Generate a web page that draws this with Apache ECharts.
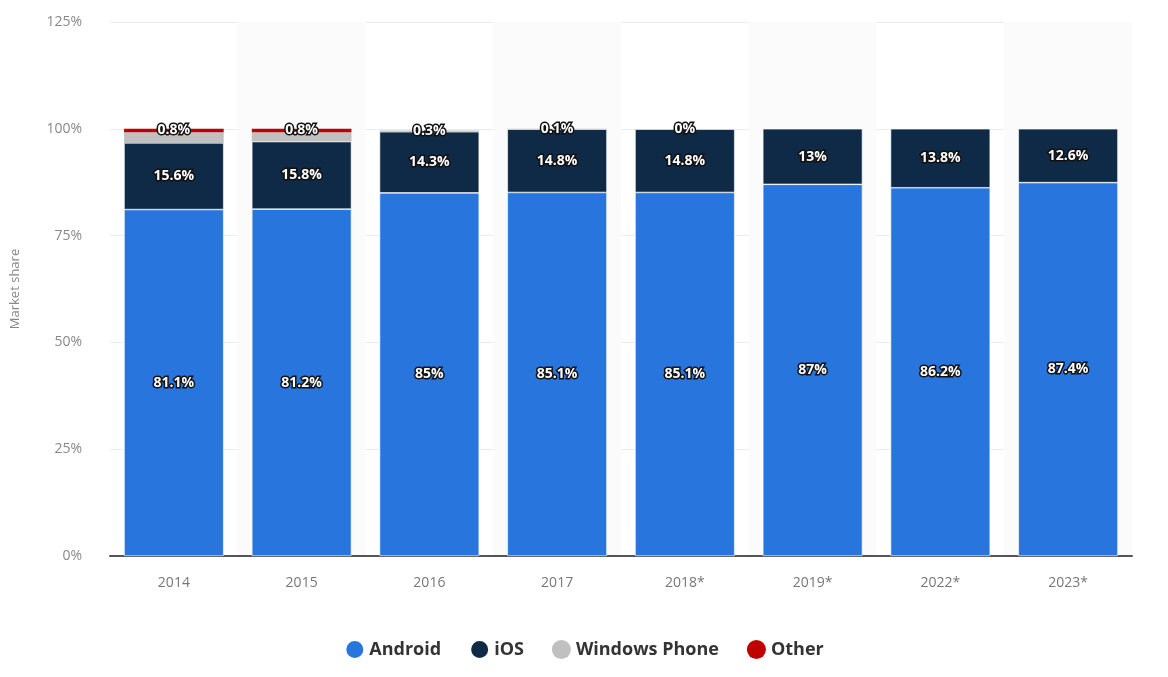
<!DOCTYPE html>
<html>
<head>
<meta charset="utf-8">
<script src="https://cdn.jsdelivr.net/npm/echarts@6/dist/echarts.min.js"></script>
<style>
html,body{margin:0;padding:0;background:#fff;}
#chart{width:1168px;height:677px;}
</style>
</head>
<body>
<div id="chart"></div>
<script>
const categories = ['2014', '2015', '2016', '2017', '2018*', '2019*', '2022*', '2023*'];
const android = [81.1, 81.2, 85, 85.1, 85.1, 87, 86.2, 87.4];
const ios = [15.6, 15.8, 14.3, 14.8, 14.8, 13, 13.8, 12.6];
const windowsPhone = [2.5, 2.2, 0.3, 0.1, 0, null, null, null];
const other = [0.8, 0.8, null, null, null, null, null, null];
const yTicks = [0, 25, 50, 75, 100, 125];

const labelStyle = {
  show: true,
  position: 'inside',
  color: '#fff',
  fontFamily: 'Open Sans',
  fontWeight: 'bold',
  fontSize: 14,
  textBorderColor: '#111',
  textBorderWidth: 3,
  formatter: p => p.value + '%'
};

function mkData(arr, hideWhen) {
  return arr.map((v, i) => {
    if (v === null) return null;
    const item = { value: v };
    if (hideWhen && hideWhen(i)) item.label = { show: false };
    return item;
  });
}

const chart = echarts.init(document.getElementById('chart'));
chart.setOption({
  animation: false,
  grid: { left: 110, right: 36, top: 22, bottom: 121 },
  legend: {
    bottom: 12,
    left: 'center',
    icon: 'circle',
    itemWidth: 19,
    itemHeight: 19,
    itemGap: 28,
    textStyle: { fontFamily: 'Open Sans', fontWeight: 'bold', fontSize: 18, color: '#333' },
    data: ['Android', 'iOS', 'Windows Phone', 'Other']
  },
  xAxis: {
    type: 'category',
    data: categories,
    axisLine: { lineStyle: { color: '#555', width: 2 } },
    axisTick: { show: false },
    axisLabel: { color: '#777', fontFamily: 'Open Sans', fontSize: 14, margin: 20 },
    splitArea: { show: true, areaStyle: { color: ['rgba(255,255,255,0)', '#fbfbfb'] } }
  },
  yAxis: {
    type: 'value',
    min: yTicks[0],
    max: yTicks[yTicks.length - 1],
    interval: 25,
    name: 'Market share',
    nameLocation: 'middle',
    nameGap: 88,
    nameTextStyle: { color: '#888', fontFamily: 'Open Sans', fontSize: 13 },
    axisLabel: { color: '#888', fontFamily: 'Open Sans', fontSize: 14, margin: 28, formatter: v => v + '%' },
    splitLine: { lineStyle: { color: '#ececec' } },
    axisLine: { show: false },
    axisTick: { show: false }
  },
  series: [
    { name: 'Android', type: 'bar', stack: 's', barWidth: '78%', data: mkData(android),
      itemStyle: { color: '#2876dd', borderColor: '#fff', borderWidth: 0.6 }, label: labelStyle },
    { name: 'iOS', type: 'bar', stack: 's', data: mkData(ios),
      itemStyle: { color: '#0f2a47', borderColor: '#fff', borderWidth: 0.6 }, label: labelStyle },
    { name: 'Windows Phone', type: 'bar', stack: 's', data: mkData(windowsPhone, i => other[i] !== null),
      itemStyle: { color: '#c0c0c0' }, label: labelStyle },
    { name: 'Other', type: 'bar', stack: 's', data: mkData(other),
      itemStyle: { color: '#c00000' }, label: labelStyle }
  ]
});
</script>
</body>
</html>
